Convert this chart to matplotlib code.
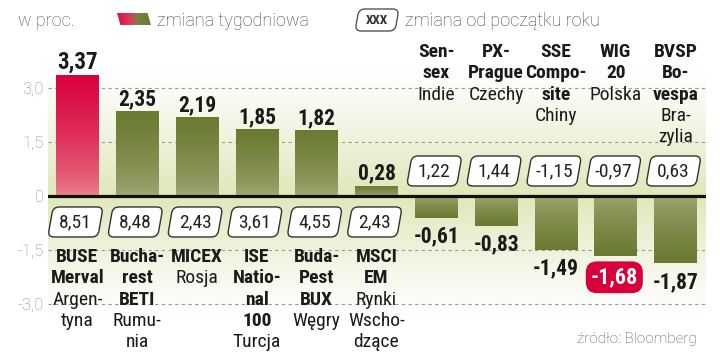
import numpy as np
import matplotlib
matplotlib.use('Agg')
from matplotlib import pyplot as plt
from matplotlib import font_manager
from matplotlib.patches import FancyBboxPatch, Polygon
from matplotlib.transforms import Affine2D
from matplotlib.colors import to_rgb

# dane
tygodniowa = [3.37, 2.35, 2.19, 1.85, 1.82, 0.28, -0.61, -0.83, -1.49, -1.68, -1.87]
od_poczatku_roku = [8.51, 8.48, 2.43, 3.61, 4.55, 2.43, 1.22, 1.44, -1.15, -0.97, 0.63]
# (tekst, pogrubiony)
etykiety = [
    [('BUSE', 1), ('Merval', 1), ('Argen-', 0), ('tyna', 0)],
    [('Bucha-', 1), ('rest', 1), ('BETI', 1), ('Rumu-', 0), ('nia', 0)],
    [('MICEX', 1), ('Rosja', 0)],
    [('ISE', 1), ('Natio-', 1), ('nal', 1), ('100', 1), ('Turcja', 0)],
    [('Buda-', 1), ('Pest', 1), ('BUX', 1), ('Węgry', 0)],
    [('MSCI', 1), ('EM', 1), ('Rynki', 0), ('Wscho-', 0), ('dzące', 0)],
    [('Sen-', 1), ('sex', 1), ('Indie', 0)],
    [('PX-', 1), ('Prague', 1), ('Czechy', 0)],
    [('SSE', 1), ('Compo-', 1), ('site', 1), ('Chiny', 0)],
    [('WIG', 1), ('20', 1), ('Polska', 0)],
    [('BVSP', 1), ('Bo-', 1), ('vespa', 1), ('Bra-', 0), ('zylia', 0)],
]
wyrozniony_plus = 0   # czerwony słupek
wyrozniony_minus = 9  # czerwona etykieta
y_ticks = [-3.0, -1.5, 0, 1.5, 3.0]
y_tick_labels = ['-3,0', '-1,5', '0', '1,5', '3,0']

dostepne = {f.name for f in font_manager.fontManager.ttflist}


def wybierz(kandydaci):
    for k in kandydaci:
        if k in dostepne:
            return k
    return 'DejaVu Sans'


WASKI = [wybierz(['Liberation Sans Narrow', 'Roboto Condensed', 'Open Sans Condensed']), 'DejaVu Sans']
LEKKI = [wybierz(['Roboto', 'Open Sans', 'Lato']), 'DejaVu Sans']


def fmt(v):
    return f'{v:.2f}'.replace('.', ',')


def gradient(c_baza, c_szczyt, n=100):
    a = np.array(to_rgb(c_baza))
    b = np.array(to_rgb(c_szczyt))
    t = np.linspace(0, 1, n) ** 0.6
    return (a[None, :] * (1 - t[:, None]) + b[None, :] * t[:, None])[:, None, :]


fig = plt.figure(figsize=(7.2, 3.6), dpi=100)
ax = fig.add_axes([48 / 720, 0, 658 / 720, 1])
ax.set_xlim(-0.493, 10.51)
ax.set_ylim(-4.556, 5.444)
for s in ax.spines.values():
    s.set_visible(False)
ax.set_xticks([])
ax.set_yticks(y_ticks)
ax.set_yticklabels(y_tick_labels, family=LEKKI, fontsize=12, color='#8c8c8c', fontweight='light')
ax.tick_params(axis='y', length=0, pad=3)
ax.grid(axis='y', color='#9a9a9a', linestyle=(0, (3, 3)), linewidth=0.8)
ax.set_axisbelow(True)

# tło
ys = np.linspace(-3.4, 3.6, 300)
sila = np.clip(1 - np.abs(ys) / np.where(ys > 0, 3.6, 3.4), 0, 1) ** 1.2
baza = np.array(to_rgb('#dfe7b9'))
tlo = (1 - sila[:, None]) * 1.0 + sila[:, None] * baza[None, :]
ax.imshow(tlo[:, None, :], extent=(-0.493, 10.51, -3.4, 3.6), origin='lower',
          aspect='auto', zorder=0.5, interpolation='bilinear')

x = np.arange(len(tygodniowa))
szer = 0.71
slupki = ax.bar(x, tygodniowa, width=szer, color='none', zorder=2)
for i, (b, v) in enumerate(zip(slupki, tygodniowa)):
    if i == wyrozniony_plus:
        g = gradient('#eb8c94', '#d9003d')
    else:
        g = gradient('#a5ac7c', '#6a7a30')
    im = ax.imshow(g, extent=(i - szer / 2, i + szer / 2, 0, v), origin='lower',
                   aspect='auto', zorder=2, interpolation='bilinear')
    im.set_clip_path(b)

ax.axhline(0, color='#111111', linewidth=2.3, zorder=3)

fig.canvas.draw()


def ramka(cx, cy, w=50, h=30, kolor='white', obw='#333333', zorder=4, artysta=ax):
    p = FancyBboxPatch((-w / 2, -h / 2), w, h,
                       boxstyle='round,pad=0,rounding_size=6',
                       facecolor=kolor, edgecolor=obw, linewidth=1.0,
                       transform=Affine2D().skew_deg(10, 0).translate(cx, cy),
                       zorder=zorder, clip_on=False)
    artysta.add_artist(p)


for i, v in enumerate(tygodniowa):
    # wartość tygodniowa
    if v >= 0:
        ax.annotate(fmt(v), (i, v), xytext=(0, 4.5), textcoords='offset points',
                    ha='center', va='baseline', family=WASKI, fontweight='bold',
                    fontsize=16.5 if i == wyrozniony_plus else 15.5, color='#1a1a1a', zorder=5)
    elif i == wyrozniony_minus:
        ax.annotate(fmt(v), (i, v), xytext=(-1, -15), textcoords='offset points',
                    ha='center', va='center', family=WASKI, fontweight='bold',
                    fontsize=16, color='white', zorder=5,
                    bbox=dict(boxstyle='round,pad=0.22,rounding_size=0.5',
                              fc='#d7003c', ec='none'))
    else:
        ax.annotate(fmt(v), (i, v), xytext=(0, -5.5), textcoords='offset points',
                    ha='center', va='top', family=WASKI, fontweight='bold',
                    fontsize=15.5, color='#1a1a1a', zorder=5)

    # zmiana od początku roku
    dy = -26 if v >= 0 else 25
    cx, cy = ax.transData.transform((i, 0))
    ramka(cx - 2, cy + dy)
    ax.annotate(fmt(od_poczatku_roku[i]), (i, 0), xytext=(-1.5, dy * 0.72),
                textcoords='offset points', ha='center', va='center',
                family=WASKI, fontsize=14, color='#222222', zorder=5)

    # nazwy indeksów
    start = -66 if v >= 0 else 139
    for k, (txt, bold) in enumerate(etykiety[i]):
        ax.annotate(txt, (i, 0), xytext=(0, (start - 21.3 * k) * 0.72),
                    textcoords='offset points', ha='center', va='baseline',
                    family=WASKI, fontweight='bold' if bold else 'normal',
                    fontsize=14, color='#1a1a1a', zorder=5, annotation_clip=False)

# legenda
fig.text(18 / 720, 1 - 26 / 360, 'w proc.', family=LEKKI, fontweight='light',
         fontsize=13, color='#555555', ha='left', va='baseline')

lax = fig.add_axes([117 / 720, 1 - 25 / 360, 34 / 720, 12 / 360])
lax.set_xlim(0, 1)
lax.set_ylim(0, 1)
lax.axis('off')
sw = np.array([to_rgb('#e0174e'), to_rgb('#d93a5a'), to_rgb('#76853c'), to_rgb('#6e7d36')])
gim = lax.imshow(sw[None, :, :], extent=(0, 1, 0, 1), aspect='auto', interpolation='bilinear')
gim.set_clip_path(Polygon([(0.1, 0), (1, 0), (0.9, 1), (0, 1)], closed=True,
                          transform=lax.transAxes))

fig.text(157 / 720, 1 - 26 / 360, 'zmiana tygodniowa', family=LEKKI, fontweight='light',
         fontsize=13, color='#444444', ha='left', va='baseline')

ramka(377, 360 - 20, w=40, h=22, obw='#555555')
fig.text(377 / 720, 1 - 21 / 360, 'XXX', family=WASKI, fontweight='bold',
         fontsize=9.5, color='#333333', ha='center', va='center')
fig.text(405 / 720, 1 - 26 / 360, 'zmiana od początku roku', family=LEKKI,
         fontweight='light', fontsize=13, color='#444444', ha='left', va='baseline')

fig.text(697 / 720, 1 - 343 / 360, 'źródło: Bloomberg', family=LEKKI, fontweight='light',
         fontsize=11, color='#555555', ha='right', va='baseline')

fig.savefig('out.png', dpi=100)
